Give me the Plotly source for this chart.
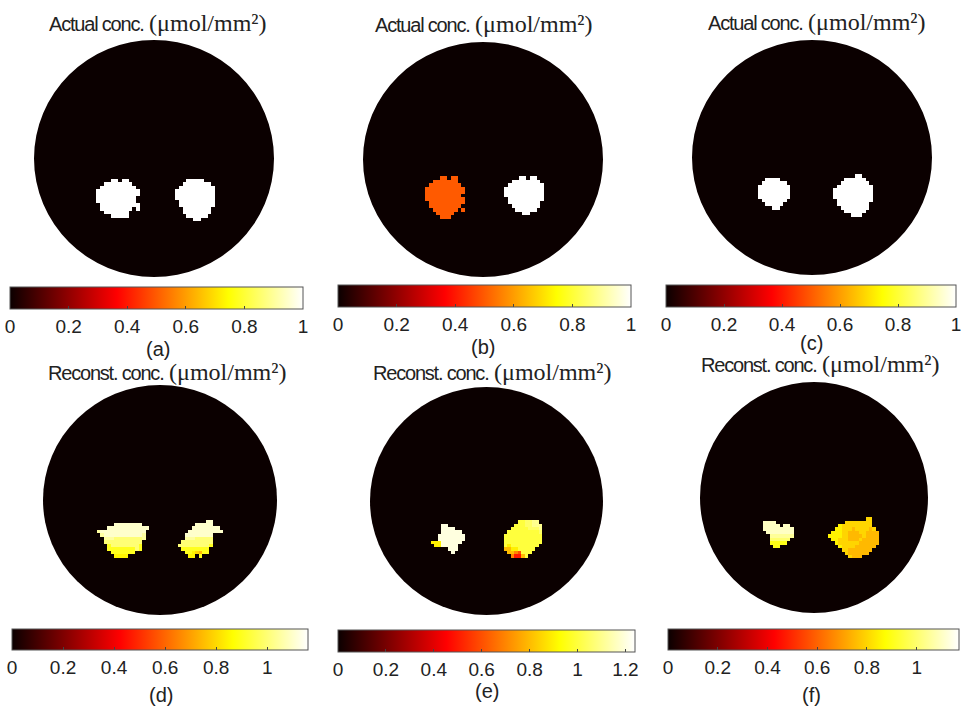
import numpy as np
import plotly.graph_objects as go

# ---------------- data ----------------
PANEL_LABELS = ["(a)", "(b)", "(c)", "(d)", "(e)", "(f)"]
TITLE_PREFIX = ["Actual conc.", "Actual conc.", "Actual conc.",
                "Reconst. conc.", "Reconst. conc.", "Reconst. conc."]
UNIT = "(μmol/mm²)"
ZMAX = [1.0, 1.0, 1.0, 1.16, 1.24, 1.17]
TICKVALS_1 = [0, 0.2, 0.4, 0.6, 0.8, 1]
TICKTEXT_1 = ["0", "0.2", "0.4", "0.6", "0.8", "1"]
TICKVALS_E = [0, 0.2, 0.4, 0.6, 0.8, 1, 1.2]
TICKTEXT_E = ["0", "0.2", "0.4", "0.6", "0.8", "1", "1.2"]

# concentration map grid (normalised disk coordinates, radius = 1)
GRID_X0 = -0.66
GRID_Y_TOP = -0.02
CELL = 0.03
NCOL = 47
NROW = 20
VALUE_KEY = {".": 0.0, "5": 0.5, "6": 0.6, "p": 0.65, "7": 0.7, "q": 0.75,
             "8": 0.8, "r": 0.85, "9": 0.9, "A": 1.0, "t": 1.05, "B": 1.1, "C": 1.2}

# blobs: (first column, first row, rows of values)
BLOBS_A = [
    (6, 5, ["....AA.AA...",
            "..AAAAAAAA..",
            ".AAAAAAAAAA.",
            "AAAAAAAAAAAA",
            "AAAAAAAAAAAA",
            "AAAAAAAAAAA.",
            "AAAAAAAAAAA.",
            ".AAAAAAAAAAA",
            ".AAAAAAAAA.A",
            "..AAAAAAA...",
            "....AAAAA..."]),
    (28, 5, ["...AAAAA...",
             "..AAAAAAAA.",
             ".AAAAAAAAAA",
             "AAAAAAAAAAA",
             "AAAAAAAAAAA",
             "AAAAAAAAAAA",
             ".AAAAAAAAAA",
             ".AAAAAAAAAA",
             "..AAAAAAAA.",
             "..AAAAAAAA.",
             "...AAAAAA..",
             ".....AA...."]),
]
BLOBS_B = [
    (6, 4, ["....55.55..",
            "..5555555..",
            ".555555555.",
            "55555555555",
            "55555555555",
            "5555555555.",
            "55555555555",
            ".5555555555",
            ".555555555.",
            "..5555555.5",
            "...55555...",
            "....555...."]),
    (28, 4, ["....AA.AA..",
             "..AAAAAAAA.",
             ".AAAAAAAAAA",
             "AAAAAAAAAAA",
             "AAAAAAAAAAA",
             "AAAAAAAAAAA",
             ".AAAAAAAAAA",
             ".AAAAAAAAA.",
             "..AAAAAAAA.",
             "...AAAAAA..",
             ".....AA...."]),
]
BLOBS_C = [
    (7, 5, ["..AAAA...",
            ".AAAAAAA.",
            "AAAAAAAAA",
            "AAAAAAAAA",
            "AAAAAAAAA",
            "AAAAAAAAA",
            ".AAAAAAA.",
            "..AAAAA..",
            "....AA..."]),
    (28, 4, ["......AA...",
             "...AAAAAA..",
             "..AAAAAAAA.",
             ".AAAAAAAAAA",
             "AAAAAAAAAAA",
             "AAAAAAAAAAA",
             "AAAAAAAAAAA",
             ".AAAAAAAAAA",
             ".AAAAAAAAA.",
             "..AAAAAAAA.",
             "...AAAAAA..",
             ".....AAA..."]),
]
BLOBS_D = [
    (4, 6, [".....BBBBBBBB..",
            "...BBBBBBBBBBBB",
            "tBBBBBBBBBBBBB.",
            ".tBBBBBBBBBBBt.",
            "..tttAAAAAAAAt.",
            "..AAAAAAAAAAA..",
            "...9AAAAAAAA9..",
            "...99999999A9..",
            "....9999999....",
            ".....rrrr......"]),
    (27, 5, ["........BB...",
             ".....BBBBB...",
             "....BBBBBBBB.",
             "...BBBBBBBBBB",
             "..BBBBBBBB...",
             "..tttAAAAA...",
             ".AAAAAAAAA...",
             "AAAAAAAAA9...",
             ".99999999....",
             "..99r8q99....",
             "...rr.9......"]),
]
BLOBS_E = [
    (6, 6, ["...CC.....",
            "...CCCC...",
            "...CCCCCC.",
            "..CCCCCCCC",
            "..CCCCCCCC",
            "999CCCCCC.",
            ".99CCCCC..",
            ".....CCC..",
            "......C..."]),
    (27, 5, ["....AAttBB.",
             "...AAAttBBB",
             "..AAAAAtttB",
             ".AAAAAAAAAt",
             "AAAAAAAAAAA",
             "AAAAAAAAAAA",
             "AAAAAAAAAAA",
             "A9AAAAAAAA.",
             "8899AAAAA..",
             ".8876AAA...",
             "..7558A...."]),
]
BLOBS_F = [
    (7, 6, ["BBBB.....",
            "BBBBB.BB.",
            "BBBBBBBBB",
            ".BBBBBBBB",
            "..ttttttt",
            "..AAAAAA.",
            "..99999..",
            "...99...."]),
    (26, 5, ["...........88..",
             ".....88888888..",
             "...r888888888..",
             "..rr888q8888q8.",
             ".rrr88qqq88qqqq",
             "rrrr88qqqq8qqqq",
             ".rr888qqq8qqqqq",
             "..r888888qqqqqq",
             "...r8888qqqqqq.",
             "....88qqqqqqq..",
             ".....8qqqqqq...",
             "......8qqq....."]),
]
PANEL_BLOBS = [BLOBS_A, BLOBS_B, BLOBS_C, BLOBS_D, BLOBS_E, BLOBS_F]

# ---------------- layout (pixels) ----------------
W, H = 961, 708
DISK_GEOM = [(154, 158.5, 120, 118.5), (483, 159.5, 120, 117.5), (812, 157.5, 120, 117.5),
             (160, 500, 117, 115), (486.5, 501, 116.5, 114), (814, 497.5, 114, 115.5)]
CBAR_GEOM = [(10, 303, 287, 22), (338, 631, 285, 22), (666, 956, 285, 22),
             (12, 308, 629, 21), (338, 635, 630, 22), (668, 959, 629, 21)]
TITLE_POS = [(158, 23), (484, 24), (817, 22), (167, 372), (492, 372), (820, 364)]
CAPTION_POS = [(158, 349), (483, 347), (811, 343), (161, 695), (487, 691), (811, 695)]

DISK_COLOR = "rgb(11,0,0)"
HOT = [[0.0, DISK_COLOR], [0.365, "rgb(255,0,0)"], [0.746, "rgb(255,255,0)"], [1.0, "rgb(255,255,255)"]]

SANS = "Liberation Sans, Arial, sans-serif"
SERIF = "Liberation Serif, Times New Roman, serif"

xs = GRID_X0 + CELL * (np.arange(NCOL) + 0.5)
ys_top = GRID_Y_TOP - CELL * (np.arange(NROW) + 0.5)


def build_map(blobs):
    z = np.zeros((NROW, NCOL))
    for c0, r0, rows in blobs:
        for i, row in enumerate(rows):
            for j, ch in enumerate(row):
                if ch != ".":
                    z[r0 + i, c0 + j] = VALUE_KEY[ch]
    return z


fig = go.Figure()
for k in range(6):
    cx, cy, rx, ry = DISK_GEOM[k]
    xa = "x" if k == 0 else f"x{k+1}"
    ya = "y" if k == 0 else f"y{k+1}"
    z = build_map(PANEL_BLOBS[k])[::-1]
    ys = ys_top[::-1]
    x0, x1, ytop, th = CBAR_GEOM[k]
    tv = TICKVALS_E if k == 4 else TICKVALS_1
    tt = TICKTEXT_E if k == 4 else TICKTEXT_1
    fig.add_trace(go.Heatmap(
        x=xs, y=ys, z=z, zmin=0, zmax=ZMAX[k], colorscale=HOT,
        zsmooth=False, hoverinfo="skip", xaxis=xa, yaxis=ya,
        colorbar=dict(
            orientation="h", x=(x0 + x1) / 2 / W, xanchor="center",
            y=1 - ytop / H, yanchor="top", len=(x1 - x0), lenmode="pixels",
            thickness=th, thicknessmode="pixels", xpad=0, ypad=0,
            outlinecolor="#555", outlinewidth=1,
            tickvals=tv, ticktext=tt,
            ticks="inside", ticklen=3, tickcolor="#444",
            ticklabeloverflow="allow",
            tickfont=dict(family=SANS, size=19, color="#222"),
        ),
    ))
    dom_x = [(cx - rx) / W, (cx + rx) / W]
    dom_y = [1 - (cy + ry) / H, 1 - (cy - ry) / H]
    axkey = "xaxis" if k == 0 else f"xaxis{k+1}"
    aykey = "yaxis" if k == 0 else f"yaxis{k+1}"
    fig.update_layout({
        axkey: dict(domain=dom_x, range=[-1, 1], visible=False, fixedrange=True, anchor=ya),
        aykey: dict(domain=dom_y, range=[-1, 1], visible=False, fixedrange=True, anchor=xa),
    })
    fig.add_shape(type="circle", xref=xa, yref=ya, x0=-1, x1=1, y0=-1, y1=1,
                  fillcolor=DISK_COLOR, line=dict(width=0), layer="below")
    tx, ty = TITLE_POS[k]
    fig.add_annotation(
        x=tx / W, y=1 - ty / H, xref="paper", yref="paper", showarrow=False,
        xanchor="center", yanchor="middle",
        text=(f"<span style='font-family:{SANS};font-size:20px;letter-spacing:-1.2px'>{TITLE_PREFIX[k]}</span> "
              f"<span style='font-family:{SERIF};font-size:24px'>{UNIT}</span>"),
        font=dict(color="#222", size=20, family=SANS),
    )
    px_, py_ = CAPTION_POS[k]
    fig.add_annotation(
        x=px_ / W, y=1 - py_ / H, xref="paper", yref="paper", showarrow=False,
        xanchor="center", yanchor="middle", text=PANEL_LABELS[k],
        font=dict(color="#222", size=20, family=SANS),
    )

fig.update_layout(width=W, height=H, margin=dict(l=0, r=0, t=0, b=0),
                  paper_bgcolor="white", plot_bgcolor="white", showlegend=False)
fig.write_html("out.html", config={"displayModeBar": False},
               post_script="document.body.style.margin='0px';")
